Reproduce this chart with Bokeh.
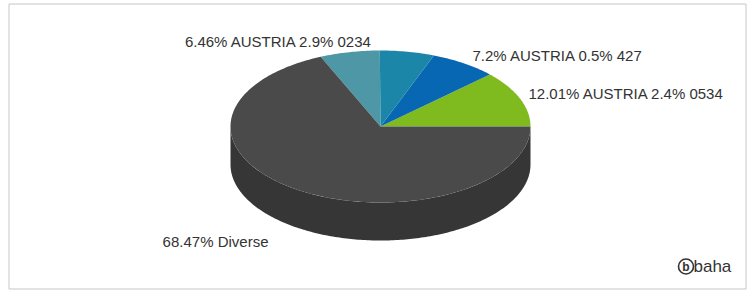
import numpy as np
from bokeh.plotting import figure
from bokeh.models import Range1d
from bokeh.embed import file_html
from bokeh.resources import INLINE
from bokeh.core.properties import value

# ---- data ----
shares = [12.01, 7.2, 5.86, 6.46, 68.47]
names = ["AUSTRIA 2.4% 0534", "AUSTRIA 0.5% 427", "AUSTRIA", "AUSTRIA 2.9% 0234", "Diverse"]
shown = [True, True, False, True, True]
colors = ["#7fba1f", "#0867b2", "#1b86a8", "#4d97a6", "#4a4a4a"]

# ---- layout ----
W, H = 754, 291
cx, cy, rx, ry, depth = 380, 126, 150, 76, 38
label_pos = [(528, 93, "left"), (472, 55, "left"), None, (372, 41, "right"), (268, 241, "right")]
FONT = "Liberation Sans"

p = figure(width=W, height=H, output_backend="svg", toolbar_location=None,
           x_range=Range1d(0, W), y_range=Range1d(H, 0),
           min_border=0, x_axis_location=None, y_axis_location=None)
p.grid.visible = False
p.outline_line_color = None
p.background_fill_color = "white"
p.border_fill_color = "white"

# frame
p.quad(left=[8.5], right=[745.5], top=[3.5], bottom=[288.5], fill_color=None,
       line_color="#c6c6c6", line_width=1)


def darken(hexc, f):
    h = hexc.lstrip("#")
    r, g, b = (int(h[i:i + 2], 16) for i in (0, 2, 4))
    return "#%02x%02x%02x" % (int(r * f), int(g * f), int(b * f))


total = float(sum(shares))
bounds = np.concatenate([[0.0], np.cumsum(shares) / total * 2 * np.pi])

# side walls (front half only)
for i, c in enumerate(colors):
    a0, a1 = bounds[i], bounds[i + 1]
    s0, s1 = max(a0, np.pi), min(a1, 2 * np.pi)
    if s1 <= s0:
        continue
    t = np.linspace(s0, s1, 200)
    xt = cx + rx * np.cos(t)
    yt = cy - ry * np.sin(t)
    xs = np.concatenate([xt, xt[::-1]])
    ys = np.concatenate([yt, yt[::-1] + depth])
    p.patch(xs, ys, fill_color=darken(c, 0.73), line_color=None)

# top faces
for i, c in enumerate(colors):
    a0, a1 = bounds[i], bounds[i + 1]
    n = max(3, int((a1 - a0) / (2 * np.pi) * 400))
    t = np.linspace(a0, a1, n)
    xs = np.concatenate([[cx], cx + rx * np.cos(t)])
    ys = np.concatenate([[cy], cy - ry * np.sin(t)])
    p.patch(xs, ys, fill_color=c, line_color=None)

# labels
for i, v in enumerate(shares):
    if not shown[i] or label_pos[i] is None:
        continue
    x, y, al = label_pos[i]
    p.text([x], [y], text=[f"{v:g}% {names[i]}"], text_align=al, text_baseline="middle",
           text_font=value(FONT), text_font_size="15px", text_color="#333333")

# logo
p.scatter([685.5], [266], size=15, marker="circle", fill_color=None,
          line_color="#333333", line_width=1.6)
p.text([685.5], [266.5], text=["b"], text_align="center", text_baseline="middle",
       text_font=value(FONT), text_font_style="bold", text_font_size="12px", text_color="#333333")
p.text([693], [266], text=["baha"], text_align="left", text_baseline="middle",
       text_font=value(FONT), text_font_size="17px", text_color="#333333")

open("out.html", "w").write(file_html(p, INLINE))
